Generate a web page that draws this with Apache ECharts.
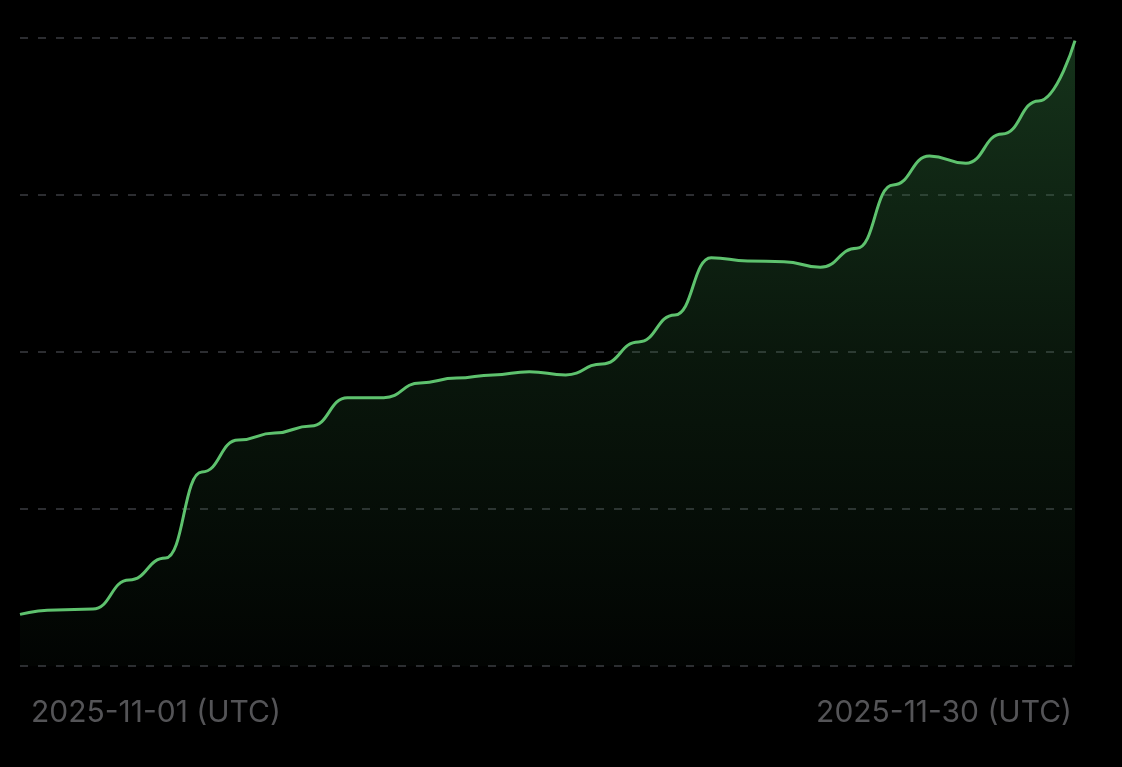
<!DOCTYPE html>
<html>
<head>
<meta charset="utf-8">
<script src="https://cdn.jsdelivr.net/npm/echarts@6/dist/echarts.min.js"></script>
<style>
html,body{margin:0;padding:0;background:#000;}
#chart{width:1122px;height:767px;}
</style>
</head>
<body>
<div id="chart"></div>
<script>
const dates = ["2025-11-01","2025-11-02","2025-11-03","2025-11-04","2025-11-05","2025-11-06","2025-11-07","2025-11-08","2025-11-09","2025-11-10","2025-11-11","2025-11-12","2025-11-13","2025-11-14","2025-11-15","2025-11-16","2025-11-17","2025-11-18","2025-11-19","2025-11-20","2025-11-21","2025-11-22","2025-11-23","2025-11-24","2025-11-25","2025-11-26","2025-11-27","2025-11-28","2025-11-29","2025-11-30"];
const values = [32.9,35.7,36.3,54.8,68.8,123.6,143.9,148.4,152.9,170.9,170.9,180.3,183.4,185.4,187.5,185.4,192.4,206.4,223.6,260.1,258.0,257.5,254.0,266.1,306.4,324.8,320.2,338.9,359.9,398.3];
const yTicks = [0,100,200,300,400];

const chart = echarts.init(document.getElementById('chart'));
chart.setOption({
  backgroundColor:'#000',
  animation:false,
  grid:{left:20,right:47,top:38,bottom:101,containLabel:false},
  xAxis:{
    type:'category',
    data:dates,
    boundaryGap:false,
    axisLine:{show:false},
    axisTick:{show:false},
    splitLine:{show:false},
    axisLabel:{
      interval:function(i){return i===0||i===dates.length-1;},
      formatter:function(v){return v+' (UTC)';},
      color:'#545457',
      fontFamily:'Inter',
      fontSize:30,
      margin:32,
      padding:[0,3,0,11],
      alignMinLabel:'left',
      alignMaxLabel:'right',
      showMinLabel:true,
      showMaxLabel:true
    }
  },
  yAxis:{
    type:'value',
    min:yTicks[0],
    max:yTicks[yTicks.length-1],
    interval:100,
    axisLine:{show:false},
    axisTick:{show:false},
    axisLabel:{show:false},
    splitLine:{show:true,lineStyle:{color:'#2c2d31',width:2,type:[8,10]}}
  },
  series:[{
    type:'line',
    data:values,
    smooth:0.5,
    smoothMonotone:'x',
    symbol:'none',
    lineStyle:{color:'#5ec26e',width:3},
    itemStyle:{color:'#5ec26e'},
    areaStyle:{
      color:new echarts.graphic.LinearGradient(0,0,0,1,[
        {offset:0,color:'rgba(46,110,58,0.66)'},
        {offset:0.5,color:'rgba(46,110,58,0.3)'},
        {offset:1,color:'rgba(46,110,58,0.05)'}
      ])
    }
  }]
});
</script>
</body>
</html>
